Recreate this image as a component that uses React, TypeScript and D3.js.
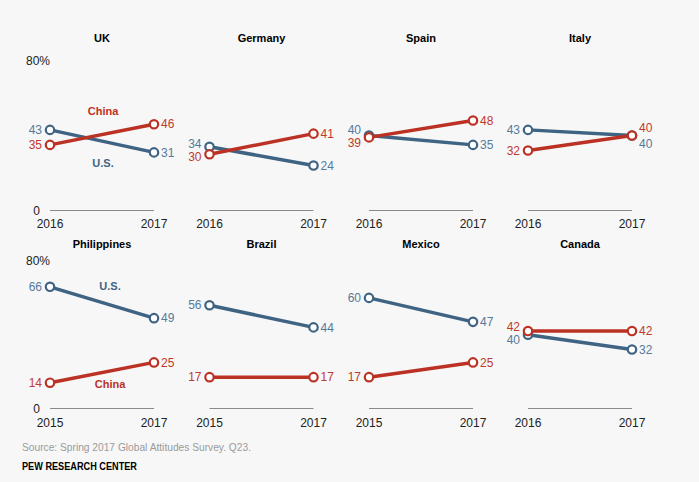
import React from "react";
import * as d3 from "d3";

const countries = ["UK", "Germany", "Spain", "Italy", "Philippines", "Brazil", "Mexico", "Canada"];
const startYears = ["2016", "2016", "2016", "2016", "2015", "2015", "2015", "2016"];
const endYears = ["2017", "2017", "2017", "2017", "2017", "2017", "2017", "2017"];
const usStart = [43, 34, 40, 43, 66, 56, 60, 40];
const usEnd = [31, 24, 35, 40, 49, 44, 47, 32];
const chinaStart = [35, 30, 39, 32, 14, 17, 17, 42];
const chinaEnd = [46, 41, 48, 40, 25, 17, 25, 42];
const yTicks = [0, 80];

const W = 699;
const H = 482;
const BLUE = "#3f6383";
const BLUE_T = "#56799a";
const RED = "#bb3224";
const RED_T = "#c0392b";
const FONT = "'Liberation Sans', Arial, sans-serif";

const rows = [
  { base: 210.5, top: 60.5, title: 42, years: 228 },
  { base: 408.5, top: 261, title: 248, years: 427 },
];
const colX0 = [50, 209.5, 369, 528];
const panelW = 104;

// series name annotations (panel index, series, offsets relative to panel)
const annotations = [
  { panel: 0, name: "China", color: RED, dx: 53, dy: 111 - 210.5 },
  { panel: 0, name: "U.S.", color: BLUE, dx: 53, dy: 163 - 210.5 },
  { panel: 4, name: "U.S.", color: BLUE, dx: 60, dy: 286 - 408.5 },
  { panel: 4, name: "China", color: RED, dx: 60, dy: 384 - 408.5 },
];

function spread(a: number, b: number, minSep: number): [number, number] {
  if (Math.abs(a - b) >= minSep) return [a, b];
  const mid = (a + b) / 2;
  if (a <= b) return [mid - minSep / 2, mid + minSep / 2];
  return [mid + minSep / 2, mid - minSep / 2];
}

export default function App() {
  const panels = countries.map((c, i) => {
    const row = rows[Math.floor(i / 4)];
    const x0 = colX0[i % 4];
    const x = d3.scalePoint<string>().domain(["start", "end"]).range([x0, x0 + panelW]);
    const y = d3.scaleLinear().domain([0, 80]).range([row.base, row.top]);
    const line = d3
      .line<{ k: string; v: number }>()
      .x((d) => x(d.k) as number)
      .y((d) => y(d.v));
    const us = [
      { k: "start", v: usStart[i] },
      { k: "end", v: usEnd[i] },
    ];
    const cn = [
      { k: "start", v: chinaStart[i] },
      { k: "end", v: chinaEnd[i] },
    ];
    let usS = y(usStart[i]);
    let cnS = y(chinaStart[i]);
    [usS, cnS] = spread(usS, cnS, 13);
    let usE = y(usEnd[i]);
    let cnE = y(chinaEnd[i]);
    [usE, cnE] = spread(usE, cnE, 15);
    if (usEnd[i] === chinaEnd[i]) {
      cnE = y(chinaEnd[i]) - 8;
      usE = y(usEnd[i]) + 8;
    }
    const xs = x("start") as number;
    const xe = x("end") as number;
    return (
      <g key={c}>
        <text x={(xs + xe) / 2} y={row.title} textAnchor="middle" fontFamily={FONT} fontWeight="bold" fontSize={11} fill="#000">
          {c}
        </text>
        <line x1={xs} x2={xe} y1={y(0)} y2={y(0)} stroke="#8a8a8a" strokeWidth={1} />
        <text x={xs} y={row.years} textAnchor="middle" fontFamily={FONT} fontSize={12} fill="#222">
          {startYears[i]}
        </text>
        <text x={xe} y={row.years} textAnchor="middle" fontFamily={FONT} fontSize={12} fill="#222">
          {endYears[i]}
        </text>
        {i % 4 === 0 &&
          yTicks.map((t) => (
            <text
              key={t}
              x={t === 0 ? 40 : 26}
              y={y(t)}
              dy="0.35em"
              textAnchor={t === 0 ? "end" : "start"}
              fontFamily={FONT}
              fontSize={12}
              fill="#222"
            >
              {t === 0 ? "0" : `${t}%`}
            </text>
          ))}
        <path d={line(us) || ""} stroke={BLUE} strokeWidth={3.5} fill="none" />
        <path d={line(cn) || ""} stroke={RED} strokeWidth={3.5} fill="none" />
        {us.map((d) => (
          <circle key={"u" + d.k} cx={x(d.k) as number} cy={y(d.v)} r={4.2} fill="#fff" stroke={BLUE} strokeWidth={2.2} />
        ))}
        {cn.map((d) => (
          <circle key={"c" + d.k} cx={x(d.k) as number} cy={y(d.v)} r={4.2} fill="#fff" stroke={RED} strokeWidth={2.2} />
        ))}
        <text x={xs - 8} y={usS} dy="0.35em" textAnchor="end" fontFamily={FONT} fontSize={12} fill={BLUE_T}>
          {usStart[i]}
        </text>
        <text x={xs - 8} y={cnS} dy="0.35em" textAnchor="end" fontFamily={FONT} fontSize={12} fill={RED_T}>
          {chinaStart[i]}
        </text>
        <text x={xe + 7} y={usE} dy="0.35em" textAnchor="start" fontFamily={FONT} fontSize={12} fill={BLUE_T}>
          {usEnd[i]}
        </text>
        <text x={xe + 7} y={cnE} dy="0.35em" textAnchor="start" fontFamily={FONT} fontSize={12} fill={RED_T}>
          {chinaEnd[i]}
        </text>
      </g>
    );
  });

  return (
    <svg width={W} height={H} style={{ position: "absolute", left: 0, top: 0 }}>
      <rect x={0} y={0} width={W} height={H} fill="#f7f7f7" />
      {panels}
      {annotations.map((a, k) => {
        const row = rows[Math.floor(a.panel / 4)];
        return (
          <text
            key={k}
            x={colX0[a.panel % 4] + a.dx}
            y={row.base + a.dy}
            dy="0.35em"
            textAnchor="middle"
            fontFamily={FONT}
            fontWeight="bold"
            fontSize={11}
            fill={a.color}
          >
            {a.name}
          </text>
        );
      })}
      <text x={22} y={451} fontFamily={FONT} fontSize={11.5} fill="#9a9a9a" textLength={229} lengthAdjust="spacingAndGlyphs">
        Source: Spring 2017 Global Attitudes Survey. Q23.
      </text>
      <text x={22} y={470} fontFamily={FONT} fontWeight="bold" fontSize={10.5} fill="#000" textLength={115} lengthAdjust="spacingAndGlyphs">
        PEW RESEARCH CENTER
      </text>
    </svg>
  );
}
